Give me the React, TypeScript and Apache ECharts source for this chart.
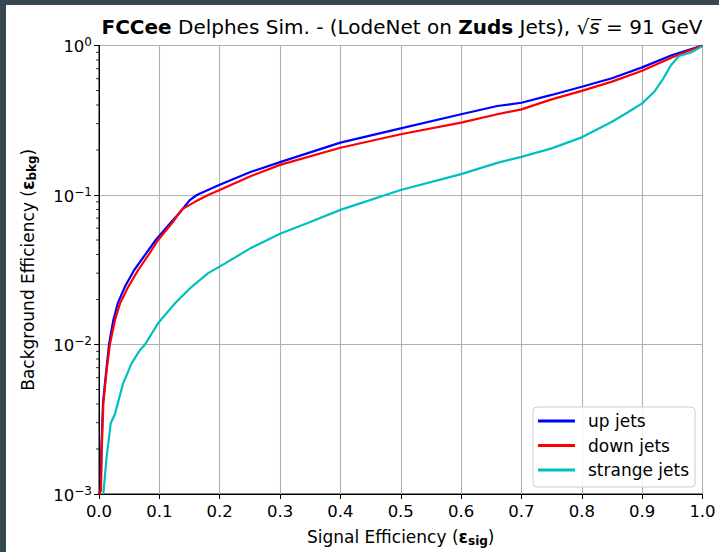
import React, { useEffect, useRef } from "react";
import * as echarts from "echarts";

const upSig = [0, 0.0028, 0.0039, 0.0066, 0.0121, 0.0166, 0.0238, 0.0312, 0.043, 0.0584, 0.0763, 0.094, 0.118, 0.135, 0.15, 0.162, 0.2, 0.25, 0.3, 0.4, 0.5, 0.6, 0.66, 0.7, 0.75, 0.8, 0.85, 0.9, 0.95, 1.0];
const upBkg = [0.001, 0.00106, 0.00197, 0.00405, 0.00675, 0.01, 0.0146, 0.0189, 0.0244, 0.0315, 0.0397, 0.05, 0.0647, 0.0773, 0.092, 0.1, 0.117, 0.142, 0.166, 0.224, 0.279, 0.347, 0.394, 0.414, 0.467, 0.53, 0.604, 0.714, 0.863, 1.0];

const downSig = [0, 0.0033, 0.0045, 0.0072, 0.0127, 0.018, 0.0265, 0.035, 0.0486, 0.065, 0.082, 0.098, 0.1206, 0.138, 0.159, 0.181, 0.2, 0.25, 0.3, 0.4, 0.5, 0.6, 0.66, 0.7, 0.75, 0.8, 0.85, 0.9, 0.95, 1.0];
const downBkg = [0.001, 0.00106, 0.00197, 0.00405, 0.00675, 0.01, 0.0146, 0.0189, 0.0244, 0.0315, 0.0397, 0.05, 0.0647, 0.0805, 0.09, 0.1, 0.108, 0.133, 0.159, 0.207, 0.255, 0.305, 0.347, 0.374, 0.436, 0.497, 0.573, 0.677, 0.834, 1.0];

const strangeSig = [0.0072, 0.0127, 0.0194, 0.0265, 0.04, 0.054, 0.068, 0.0763, 0.098, 0.126, 0.154, 0.181, 0.209, 0.25, 0.3, 0.35, 0.4, 0.5, 0.6, 0.66, 0.7, 0.75, 0.8, 0.85, 0.875, 0.9, 0.92, 0.935, 0.948, 0.961, 0.98, 1.0];
const strangeBkg = [0.001, 0.00178, 0.00297, 0.00343, 0.0055, 0.00748, 0.0092, 0.01, 0.0139, 0.0189, 0.0244, 0.03, 0.0349, 0.0438, 0.055, 0.066, 0.0795, 0.108, 0.138, 0.164, 0.18, 0.205, 0.243, 0.309, 0.355, 0.41, 0.49, 0.6, 0.74, 0.851, 0.895, 0.99];

const seriesNames = ["up jets", "down jets", "strange jets"];
const seriesColors = ["#0000ff", "#ff0000", "#00bfbf"];

const minorTickValues: number[] = [];
for (const d of [0.001, 0.01, 0.1]) {
  for (let k = 2; k <= 9; k++) minorTickValues.push(+(k * d).toPrecision(3));
}

const FONT = "DejaVu Sans";

function zip(a: number[], b: number[]) {
  return a.map((v, i) => [v, b[i]]);
}

export default function App() {
  const ref = useRef<HTMLDivElement>(null);
  useEffect(() => {
    if (!ref.current) return;
    const chart = echarts.init(ref.current, undefined, { renderer: "svg" });
    const lineSeries = [
      zip(upSig, upBkg),
      zip(downSig, downBkg),
      zip(strangeSig, strangeBkg),
    ].map((data, i) => ({
      type: "line",
      name: seriesNames[i],
      data,
      showSymbol: false,
      symbol: "none",
      lineStyle: { color: seriesColors[i], width: 2.2 },
      itemStyle: { color: seriesColors[i] },
      z: 3 + i,
    }));
    const nameRich = {
      e: { fontFamily: FONT, fontSize: 17, fontWeight: "bold", color: "#000" },
      s: { fontFamily: FONT, fontSize: 12, fontWeight: "bold", color: "#000", verticalAlign: "bottom", padding: [9, 0, 0, 0] },
    };
    chart.setOption({
      animation: false,
      backgroundColor: "#ffffff",
      title: {
        text: "{b|FCCee} Delphes Sim. - (LodeNet on {b|Zuds} Jets), √{i|s\u0305} = 91 GeV",
        left: 391,
        textAlign: "center",
        top: 7,
        textStyle: {
          fontFamily: FONT,
          fontSize: 20,
          lineHeight: 19,
          fontWeight: "normal",
          color: "#000",
          rich: {
            b: { fontFamily: FONT, fontSize: 20, lineHeight: 19, fontWeight: "bold", color: "#000" },
            i: { fontFamily: FONT, fontSize: 20, lineHeight: 19, fontStyle: "italic", color: "#000" },
          },
        },
      },
      legend: {
        orient: "vertical",
        left: 527,
        top: 402,
        padding: [4, 6, 7, 5],
        itemGap: 4.5,
        itemWidth: 37,
        itemHeight: 3,
        icon: "rect",
        backgroundColor: "rgba(255,255,255,0.85)",
        borderColor: "#cccccc",
        borderWidth: 1,
        borderRadius: 4,
        textStyle: {
          fontFamily: FONT,
          fontSize: 17,
          color: "#000",
          lineHeight: 20,
          padding: [0, 0, 0, 8],
        },
        data: seriesNames,
      },
      grid: {
        left: 93,
        right: 16.5,
        top: 40.5,
        bottom: 58,
        show: true,
        borderColor: "#000",
        borderWidth: 1,
        backgroundColor: "#fff",
      },
      xAxis: {
        type: "value",
        min: 0,
        max: 1,
        interval: 0.1,
        name: "Signal Efficiency ({e|ε}{s|sig})",
        nameLocation: "middle",
        nameGap: 32,
        nameTextStyle: { fontFamily: FONT, fontSize: 17, color: "#000", rich: nameRich },
        axisLine: { show: true, lineStyle: { color: "#000", width: 1 } },
        axisTick: { show: true, length: 5, lineStyle: { color: "#000" } },
        axisLabel: {
          fontFamily: FONT,
          fontSize: 16.5,
          color: "#000",
          margin: 9,
          formatter: (v: number) => v.toFixed(1),
        },
        splitLine: { show: true, lineStyle: { color: "#b0b0b0", width: 1.1 } },
      },
      yAxis: {
        type: "log",
        logBase: 10,
        min: 0.001,
        max: 1,
        name: "Background Efficiency ({e|ε}{s|bkg})",
        nameLocation: "middle",
        nameGap: 61,
        nameTextStyle: { fontFamily: FONT, fontSize: 17, color: "#000", rich: nameRich },
        axisLine: { show: true, lineStyle: { color: "#000", width: 1 } },
        axisTick: { show: true, length: 5, lineStyle: { color: "#000" } },
        axisLabel: {
          fontFamily: FONT,
          fontSize: 16.5,
          color: "#000",
          margin: 7,
          formatter: (v: number) => {
            const e = Math.round(Math.log10(v));
            const sup = e === 0 ? "0" : "−" + Math.abs(e);
            return "{b|10}{s|" + sup + "}";
          },
          rich: {
            b: { fontFamily: FONT, fontSize: 16.5, color: "#000", verticalAlign: "bottom", lineHeight: 19 },
            s: { fontFamily: FONT, fontSize: 12, color: "#000", verticalAlign: "top", padding: [0, 0, 7, 0] },
          },
        },
        splitLine: { show: true, lineStyle: { color: "#b0b0b0", width: 1.1 } },
      },
      series: [
        ...lineSeries,
        {
          type: "custom",
          name: "minor",
          silent: true,
          clip: false,
          data: minorTickValues.map((v) => [0, v]),
          encode: { x: 0, y: 1 },
          renderItem: (params: any, api: any) => {
            const p = api.coord([0, api.value(1)]);
            return {
              type: "line",
              shape: { x1: p[0] - 3, y1: p[1], x2: p[0], y2: p[1] },
              style: { stroke: "#000", lineWidth: 0.8 },
            };
          },
          z: 10,
        },
      ],
    });
    return () => chart.dispose();
  }, []);
  return (
    <div style={{ position: "fixed", left: 0, top: 0, width: 719, height: 552, background: "#37474f" }}>
      <div style={{ position: "absolute", left: 6, top: 5, width: 713, height: 547, background: "#fff" }}>
        <div ref={ref} style={{ width: 713, height: 547 }} />
      </div>
    </div>
  );
}
